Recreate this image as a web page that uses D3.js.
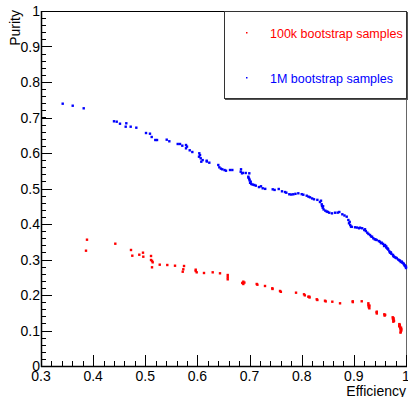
<!DOCTYPE html>
<html><head><meta charset="utf-8">
<script src="https://cdn.jsdelivr.net/npm/d3@7"></script>
<style>body{margin:0;background:#fff}svg{display:block}text{font-family:"Liberation Sans",Arial,sans-serif}</style>
</head><body>
<script>
// Data: [efficiency, purity]
const sample1M = [
 [0.3416,0.7389],[0.3608,0.7332],[0.3819,0.7259],
 [0.4400,0.6893],[0.4452,0.6882],[0.4515,0.6825],[0.4636,0.6837],[0.4624,0.6741],[0.4720,0.6741],[0.4828,0.6713],
 [0.5014,0.6563],[0.5090,0.6544],[0.5123,0.6451],[0.5192,0.6366],[0.5225,0.6366],[0.5411,0.6375],[0.5461,0.6330],
 [0.5622,0.6254],[0.5666,0.6254],[0.5710,0.6206],[0.5781,0.6225],[0.5781,0.6132],[0.5852,0.6076],[0.5902,0.6028],
 [0.6036,0.5992],[0.6030,0.5896],[0.6063,0.5851],[0.6074,0.5755],[0.6178,0.5783],[0.6228,0.5727],
 [0.6400,0.5662],[0.6420,0.5597],[0.6477,0.5541],[0.6548,0.5501],[0.6625,0.5521],[0.6669,0.5521],
 [0.6836,0.5541],[0.6830,0.5473],[0.6855,0.5428],[0.6926,0.5437],[0.6995,0.5428],[0.6976,0.5332],[0.6995,0.5268],
 [0.7022,0.5192],[0.7033,0.5127],[0.7091,0.5099],[0.7219,0.5062],[0.7252,0.5006],[0.7444,0.4977],[0.7559,0.4986],
 [0.7622,0.4921],[0.7705,0.4882],[0.7762,0.4837],[0.7839,0.4837],[0.7935,0.4865],[0.8031,0.4825],[0.8096,0.4797],
 [0.8159,0.4752],[0.8236,0.4696],[0.8370,0.4656],[0.8384,0.4555],[0.8403,0.4459],[0.8453,0.4375],[0.8529,0.4318],
 [0.8639,0.4318],[0.8721,0.4338],[0.8779,0.4273],[0.8863,0.4206],[0.8894,0.4113],[0.8907,0.4020],[0.8946,0.3924],
 [0.9022,0.3907],[0.9118,0.3896],[0.9214,0.3851],[0.9258,0.3755],[0.9310,0.3690],[0.9373,0.3597],[0.9438,0.3549],
 [0.9534,0.3473],[0.9598,0.3408],[0.9642,0.3315],[0.9694,0.3192],[0.9757,0.3099],[0.9822,0.3034],[0.9885,0.2966],
 [0.9949,0.2893],[1.0000,0.2797],
 [0.8350,0.4620],[0.8390,0.4510],[0.8420,0.4410],[0.8480,0.4350],[0.8580,0.4300],[0.8920,0.4060],[0.8930,0.3970],
 [0.9060,0.3900],[0.9160,0.3880],[0.9230,0.3800],[0.9280,0.3720],[0.9350,0.3640],[0.9400,0.3570],[0.9480,0.3520],
 [0.9560,0.3440],[0.9580,0.3380],[0.9620,0.3340],[0.9660,0.3280],[0.9680,0.3230],[0.9720,0.3160],[0.9750,0.3130],
 [0.9790,0.3060],[0.9850,0.3000],[0.9900,0.2930],[0.9930,0.2910],[0.9970,0.2840],[0.9990,0.2810],[1.0000,0.2760],
 [0.7060,0.5110],[0.6980,0.5300],[0.6870,0.5440],[0.5800,0.6180],[0.6520,0.5520],[0.7480,0.4960],[0.7880,0.4850],
 [0.7000,0.5230],[0.7010,0.5160],[0.7120,0.5080],[0.7180,0.5040],[0.7300,0.4990],[0.7680,0.4900],[0.7800,0.4830],
 [0.8000,0.4840],[0.8130,0.4770],[0.8200,0.4720],[0.8300,0.4680],[0.8410,0.4500],[0.8500,0.4340],[0.8690,0.4320],
 [0.8820,0.4240],[0.8960,0.3920],[0.9100,0.3880],[0.9200,0.3830],[0.9330,0.3650],[0.9420,0.3560],[0.9500,0.3500],
 [0.9520,0.3460],[0.9620,0.3370],[0.9650,0.3300],[0.9710,0.3200],[0.9770,0.3080],[0.9810,0.3050],[0.9870,0.2980],
 [0.9920,0.2940],[0.9960,0.2870],[0.9980,0.2830],[0.6050,0.5940],[0.6100,0.5800],[0.6180,0.5760],[0.6450,0.5560]
];
const sample100k = [
 [0.3882,0.3558],[0.3863,0.3248],[0.4425,0.3445],[0.4726,0.3268],[0.4751,0.3107],[0.4885,0.3135],[0.4956,0.3192],
 [0.4962,0.3079],[0.5110,0.3099],[0.5110,0.2986],[0.5142,0.2921],[0.5129,0.2780],[0.5277,0.2854],[0.5422,0.2845],
 [0.5570,0.2825],[0.5743,0.2817],[0.5729,0.2724],[0.5718,0.2656],[0.5967,0.2713],[0.5986,0.2639],[0.5967,0.2676],
 [0.6126,0.2620],[0.6293,0.2639],[0.6433,0.2611],[0.6581,0.2563],[0.6581,0.2442],[0.6581,0.2500],[0.6880,0.2375],
 [0.6880,0.2310],[0.6860,0.2340],[0.7137,0.2310],[0.7296,0.2254],[0.7436,0.2189],[0.7584,0.2113],[0.7891,0.2065],
 [0.8044,0.2020],[0.8127,0.1952],[0.8146,0.1952],[0.8288,0.1879],[0.8447,0.1839],[0.8587,0.1811],[0.8735,0.1766],
 [0.8978,0.1823],[0.9151,0.1823],[0.9278,0.1766],[0.9280,0.1720],[0.9285,0.1680],[0.9297,0.1625],[0.9290,0.1650],
 [0.9438,0.1513],[0.9440,0.1480],[0.9584,0.1456],[0.9590,0.1420],[0.9745,0.1372],[0.9750,0.1330],[0.9757,0.1290],
 [0.9757,0.1248],[0.9872,0.1180],[0.9880,0.1140],[0.9885,0.1107],[0.9890,0.1060],[0.9899,0.1020],[0.9899,0.0966],
 [0.9895,0.0940],[0.9910,0.1000],[0.9905,0.1080],[0.8980,0.1800],
 [0.6900,0.2350],[0.7150,0.2290],[0.7440,0.2170],[0.7600,0.2090],[0.8060,0.1990],[0.8150,0.1930],[0.8300,0.1860],
 [0.8460,0.1820],[0.9300,0.1700],[0.9440,0.1530],[0.9600,0.1440],[0.9760,0.1350],[0.9770,0.1270],[0.9880,0.1160],
 [0.9910,0.1040],[0.9870,0.1120],[0.9760,0.1310],[0.5130,0.2960]
];
const xTicks = [0.3,0.4,0.5,0.6,0.7,0.8,0.9,1];
const xTickLabels = ["0.3","0.4","0.5","0.6","0.7","0.8","0.9","1"];
const yTicks = [0,0.1,0.2,0.3,0.4,0.5,0.6,0.7,0.8,0.9,1];
const yTickLabels = ["0","0.1","0.2","0.3","0.4","0.5","0.6","0.7","0.8","0.9","1"];
const seriesNames = ["100k bootstrap samples","1M bootstrap samples"];
const seriesColors = ["#ff0000","#0000ff"];

const W=408,H=397, L=41, R=406, T=11, B=366;
const svg=d3.select("body").append("svg").attr("width",W).attr("height",H);
const x=d3.scaleLinear().domain([0.3,1]).range([L,R]);
const y=d3.scaleLinear().domain([0,1]).range([B,T]);

// frame
svg.append("line").attr("x1",L).attr("x2",R).attr("y1",T+0.5).attr("y2",T+0.5).attr("stroke","#000");
svg.append("line").attr("x1",R+0.5).attr("x2",R+0.5).attr("y1",T).attr("y2",B).attr("stroke","#666");

// minor ticks
const xMinor=d3.range(0,36).map(i=>0.3+i*0.02).filter(v=>v<=1.0001);
const yMinor=d3.range(0,51).map(i=>i*0.02);
const g=svg.append("g");
xMinor.forEach(v=>{const px=Math.round(x(v))+0.5;g.append("line").attr("x1",px).attr("x2",px).attr("y1",B).attr("y2",B-5).attr("stroke","#000");});
yMinor.forEach(v=>{const py=Math.round(y(v))+0.5;g.append("line").attr("x1",L).attr("x2",L+5).attr("y1",py).attr("y2",py).attr("stroke","#000");});
xTicks.forEach(v=>{const px=Math.round(x(v))+0.5;g.append("line").attr("x1",px).attr("x2",px).attr("y1",B).attr("y2",B-11).attr("stroke","#000");});
yTicks.forEach(v=>{const py=Math.round(y(v))+0.5;g.append("line").attr("x1",L).attr("x2",L+11).attr("y1",py).attr("y2",py).attr("stroke","#000");});
// axis lines
svg.append("line").attr("x1",L+0.5).attr("x2",L+0.5).attr("y1",T).attr("y2",B+1).attr("stroke","#000").attr("stroke-width",1.5);
svg.append("line").attr("x1",L).attr("x2",R+1).attr("y1",B+0.5).attr("y2",B+0.5).attr("stroke","#000").attr("stroke-width",1.5);

// tick labels
xTicks.forEach((v,i)=>svg.append("text").attr("x",x(v)).attr("y",381).attr("text-anchor","middle").attr("font-size",14).attr("fill","#000").text(xTickLabels[i]));
yTicks.forEach((v,i)=>svg.append("text").attr("x",40).attr("y",y(v)+5).attr("text-anchor","end").attr("font-size",14).attr("fill","#000").text(yTickLabels[i]));

// axis titles
svg.append("text").attr("x",406).attr("y",396).attr("text-anchor","end").attr("font-size",14).text("Efficiency");
svg.append("text").attr("transform","translate(20,10) rotate(-90)").attr("text-anchor","end").attr("font-size",14).text("Purity");

// points
[sample100k,sample1M].forEach((data,k)=>{
  svg.append("g").selectAll("rect").data(data).join("rect")
    .attr("x",d=>x(d[0])-1.2).attr("y",d=>y(d[1])-1.2).attr("width",2.4).attr("height",2.4)
    .attr("fill",seriesColors[k]);
});

// legend
const lg=svg.append("g");
lg.append("rect").attr("x",224.5).attr("y",11.5).attr("width",182).attr("height",87).attr("fill","#fff").attr("stroke","#333");
lg.append("line").attr("x1",225).attr("x2",408).attr("y1",99.5).attr("y2",99.5).attr("stroke","#555");
lg.append("line").attr("x1",407.5).attr("x2",407.5).attr("y1",12).attr("y2",100).attr("stroke","#555");
seriesNames.forEach((n,i)=>{
  const cy=33+i*45;
  lg.append("rect").attr("x",246).attr("y",cy-1).attr("width",1.5).attr("height",1.5).attr("fill",seriesColors[i]);
  lg.append("text").attr("x",270).attr("y",cy+4.5).attr("font-size",12.5).attr("fill",seriesColors[i]).text(n);
});
</script>
</body></html>
